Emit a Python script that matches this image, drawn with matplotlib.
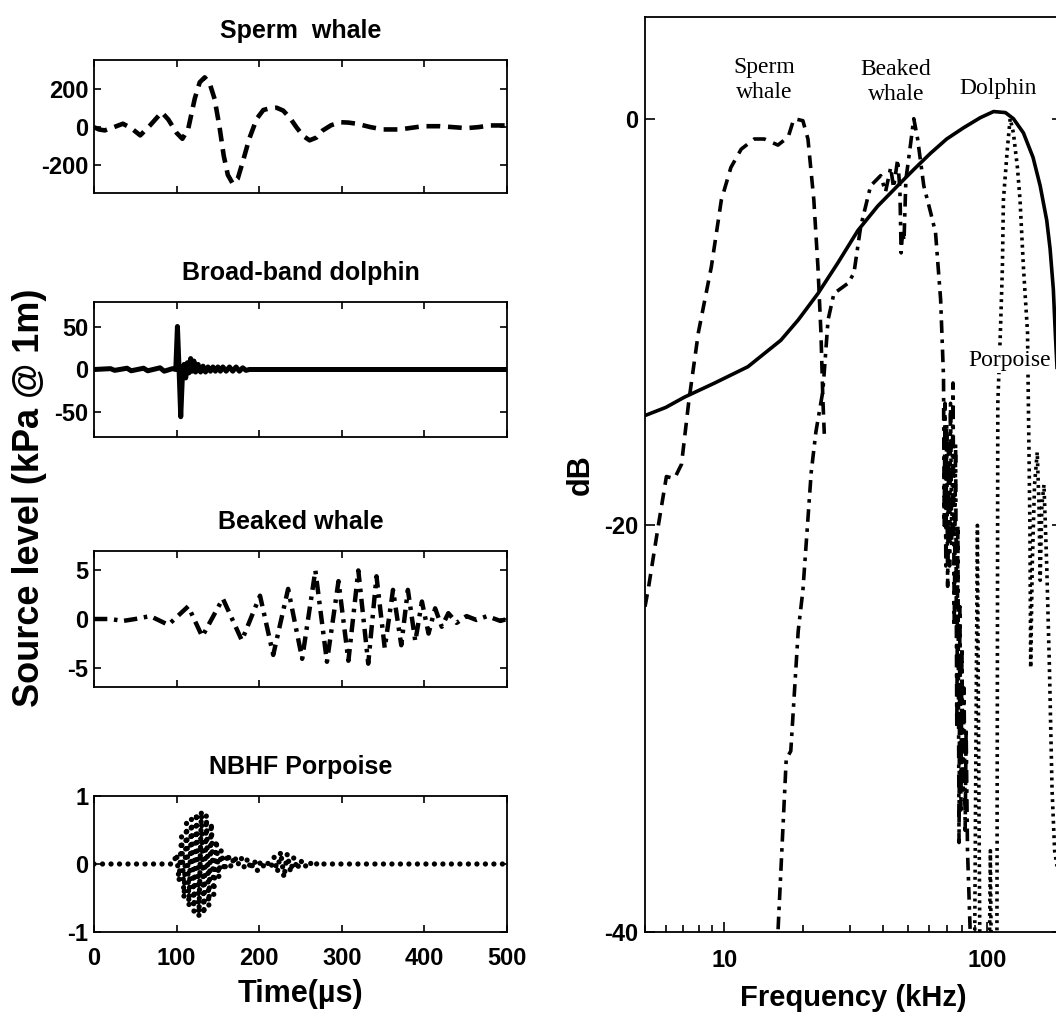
import matplotlib
matplotlib.use('Agg')
import matplotlib.pyplot as plt

plt.rcParams['font.family'] = ['Liberation Sans', 'DejaVu Sans']
plt.rcParams['font.weight'] = 'bold'
plt.rcParams['axes.unicode_minus'] = False

# ---- time-domain clicks (time in us) ----
sperm_t = [0, 6, 13, 24, 35, 45, 56, 68, 82, 90, 100, 107, 114, 122, 128, 134, 140, 146, 152, 157,
           162, 168, 174, 180, 188, 197, 205, 213, 221, 229, 237, 245, 253, 261, 269, 277, 287,
           298, 308, 318, 335, 350, 370, 385, 398, 419, 435, 451, 465, 480, 500]
sperm_p = [0, -12, -17, 0, 18, -5, -43, 10, 78, 40, -30, -61, -10, 150, 235, 261, 230, 148, 0, -148,
           -250, -296, -270, -183, -60, 44, 90, 99, 102, 87, 50, 0, -45, -69, -55, -17, 10,
           26, 24, 18, 0, -12, -12, -3, 5, 5, 0, -5, 0, 9, 9]

dolphin_t = [0, 20, 25, 40, 45, 60, 65, 80, 85, 95, 99, 101, 103, 105, 107, 109, 111, 113, 115, 117,
             119, 121, 123, 126, 129, 132, 135, 138, 141, 144, 147, 150, 153, 156, 160, 164, 168,
             172, 176, 180, 184, 188, 500]
dolphin_p = [0, 1, -1, 1.5, -1.5, 1.5, -1.5, 2, -2, 1, 0, 51, 0, -56, -8, 6, -10, 8, -4, 13,
             -2, 10, -3, 6, -3, 4, -3, 3, -2, 3, -2, 3, -2, 3, -2, 3, -2,
             3, -2, 2, -1, 0, 0]

beaked_t = [0, 20, 35, 50, 68, 90, 114, 131, 156, 179, 201, 217, 235, 252, 268, 282, 296, 308, 320,
            332, 342, 352, 362, 372, 380, 389, 397, 405, 413, 421, 429, 439, 451, 463, 476, 492, 500]
beaked_p = [0, 0, -0.2, 0, 0.3, -0.6, 1.3, -1.8, 2.1, -2.2, 2.4, -3.7, 3.1, -4.1, 5.0, -4.4, 3.9, -4.3, 5.0,
            -4.6, 4.4, -3.0, 3.0, -2.7, 3.0, -2.3, 1.8, -1.5, 1.1, -0.8, 0.6, -0.4, 0.3, -0.1, 0.3, -0.2, 0]

porp_t = [0, 96, 100, 103, 106, 109, 112, 115, 118, 121, 124, 127, 130, 133, 136, 139, 142, 145, 148,
          151, 154, 158, 162, 166, 170, 174, 178, 182, 186, 190, 194, 198, 202, 206, 210, 214, 218,
          222, 226, 230, 234, 238, 242, 246, 250, 255, 260, 266, 272, 278, 500]
porp_p = [0, 0, 0.15, -0.25, 0.4, -0.5, 0.6, -0.62, 0.66, -0.7, 0.75, -0.78, 0.78, -0.74, 0.72, -0.62, 0.6, -0.45, 0.35,
          -0.2, 0.2, -0.1, 0.15, -0.05, 0.12, -0.02, 0.1, -0.05, 0.08, -0.08, 0.06, -0.1, 0.05, -0.05, 0.02, -0.06, 0.1,
          -0.12, 0.18, -0.2, 0.15, -0.12, 0.1, -0.08, 0.06, -0.05, 0.04, -0.04, 0.03, 0, 0]

# ---- spectra (kHz, dB) ----
sperm_f = [5.0, 5.15, 5.62, 6.03, 6.47, 6.88, 7.32, 7.5, 7.98, 8.93, 9.75, 10.6, 11.6, 13.0, 14.2, 16.0,
           17.5, 18.4, 19.9, 20.8, 21.9, 22.7, 23.3, 23.7, 24.0]
sperm_db = [-24, -23.1, -20.0, -17.6, -17.7, -17.0, -14.0, -13.0, -10.5, -7.3, -4.0, -2.4, -1.5, -1.0, -1.0, -1.3,
            -0.9, 0.0, -0.1, -1.0, -4.0, -7.3, -10.5, -13.8, -15.5]

dolphin_f = [5.0, 6.0, 7.05, 9.2, 12.3, 16.4, 19.1, 22.7, 27.0, 32.2, 38.3, 45.6, 52.5, 60.8, 70, 81.1,
             94, 105.5, 117, 125.5, 137, 149, 158.6, 168, 173, 178, 181, 190]
dolphin_db = [-14.6, -14.2, -13.7, -13.0, -12.2, -10.9, -9.9, -8.6, -7.1, -5.5, -4.3, -3.3, -2.5, -1.7, -1.0, -0.45,
              0.05, 0.35, 0.3, 0.0, -0.7, -1.9, -3.3, -5.0, -6.4, -8.4, -10.5, -16]

beaked_f = [15.8, 16.0, 17.2, 17.9, 19.1, 19.9, 21.4, 22.3, 23.7, 24.8, 26.1, 29.5, 31.1, 33.0, 36.0,
            39.3, 41.0, 42.9, 44.0, 45.6, 46.5, 47.0, 47.6, 48.2, 49.0, 51.1, 52.5, 54.3, 57.3, 60.8,
            63.5, 66.4, 68.1, 68.5, 69, 69.5, 70, 70.6, 71.2, 71.8, 72.4, 73.2, 74, 74.8, 75.7, 76.5,
            77.2, 78, 78.6, 79.3, 80, 80.8, 81.5, 82.3, 83, 84, 85, 86, 87]
beaked_db = [-45, -40, -31.5, -31.1, -25.2, -23.2, -17.4, -15.4, -13.4, -9.9, -8.6, -8.1, -7.6, -5.3, -3.3,
             -2.8, -3.6, -2.4, -3.4, -2.0, -3.5, -6.6, -5.5, -6.0, -3.0, -1.2, 0.0, -1.0, -3.3, -4.6,
             -5.6, -8.9, -12.7, -20, -14, -22, -15, -23, -16, -22, -14, -21, -13, -25, -16, -30,
             -20, -35.6, -24, -34, -26, -33, -28, -35, -30, -36, -38, -40, -45]

porp_f = [89, 90.5, 91.6, 92.5, 94, 101, 102.6, 104, 108.5, 109, 109.5, 112, 114, 115, 119, 122, 125.5,
          130, 133, 137, 142, 143, 145, 146, 148, 151, 154.6, 157, 158.6, 161, 164, 168, 172, 176, 180, 190]
porp_db = [-45, -30, -20, -30, -45, -45, -36, -45, -45, -30, -14, -10.5, -7.3, -4, -1.5, 0, -0.7,
           -2.4, -4, -7.3, -10.5, -13.8, -20, -27, -22, -18, -16.4, -19, -22.7, -19, -18, -22, -27, -33, -36, -38]

fig = plt.figure(figsize=(10.56, 10.16), dpi=100)

W, H = 1056, 1016
def pos(x0, y0, x1, y1):
    return [x0 / W, 1 - y1 / H, (x1 - x0) / W, (y1 - y0) / H]

fs_tick = 17
panels = [
    ('Sperm  whale', sperm_t, sperm_p, (0, (3, 1.7)), 3.3, (-345, 352), [-200, 0, 200], (60, 193)),
    ('Broad-band dolphin', dolphin_t, dolphin_p, '-', 3.6, (-80, 80), [-50, 0, 50], (302, 437)),
    ('Beaked whale', beaked_t, beaked_p, (0, (3, 1.5, 0.8, 1.5)), 3.2, (-7, 7), [-5, 0, 5], (551, 687)),
    ('NBHF Porpoise', porp_t, porp_p, (0, (0.01, 1.6)), 3.8, (-1, 1), [-1, 0, 1], (796, 932)),
]
for i, (title, t, p, ls, lw, yl, yt, (y0, y1)) in enumerate(panels):
    ax = fig.add_axes(pos(94, y0, 507, y1))
    line, = ax.plot(t, p, color='black', linestyle=ls, linewidth=lw)
    if i == 3:
        line.set_dash_capstyle('round')
    ax.set_xlim(0, 500)
    ax.set_ylim(*yl)
    ax.set_yticks(yt)
    ax.set_xticks([0, 100, 200, 300, 400, 500])
    ax.tick_params(direction='in', top=True, right=True, length=5, width=1.2,
                   labelsize=fs_tick, pad=4)
    if i < 3:
        ax.set_xticklabels([])
    else:
        ax.tick_params(axis='x', pad=11)
        ax.set_xlabel('Time(µs)', fontsize=22, fontweight='bold', labelpad=6)
    for s in ax.spines.values():
        s.set_linewidth(1.3)
    ax.set_title(title, fontsize=18, fontweight='bold', pad=16)

fig.text(0.0275, 0.51, 'Source level (kPa @ 1m)', rotation=90, ha='center', va='center',
         fontsize=26, fontweight='bold')

# ---- spectra panel ----
ax = fig.add_axes(pos(645, 17, 1062, 932))
ax.set_xscale('log')
ax.plot(sperm_f, sperm_db, color='black', linestyle=(0, (3.5, 2.2)), linewidth=2.6)
ax.plot(dolphin_f, dolphin_db, color='black', linestyle='-', linewidth=2.6)
ax.plot(beaked_f, beaked_db, color='black', linestyle=(0, (3.5, 1.8, 1, 1.8)), linewidth=2.6)
ax.plot(porp_f, porp_db, color='black', linestyle=(0, (0.8, 1.2)), linewidth=2.6)
ax.set_xlim(5, 192)
ax.set_ylim(-40, 5)
ax.set_yticks([-40, -20, 0])
ax.set_xticks([10, 100], labels=['10', '100'])
ax.tick_params(which='both', direction='in', right=True, top=False, width=1.2)
ax.tick_params(which='major', length=7, labelsize=fs_tick, pad=5)
ax.tick_params(axis='x', which='major', pad=12)
ax.tick_params(which='minor', length=5)
for s in ax.spines.values():
    s.set_linewidth(1.3)
ax.set_xlabel('Frequency (kHz)', fontsize=21, fontweight='bold', labelpad=9)
ax.set_ylabel('dB', fontsize=22, fontweight='bold', labelpad=6)

serif = ['Liberation Serif', 'DejaVu Serif']
ax.text(14.2, 1.9, 'Sperm\nwhale', family=serif, fontweight='normal', fontsize=17,
        ha='center', va='center', linespacing=1.2)
ax.text(44.9, 1.8, 'Beaked\nwhale', family=serif, fontweight='normal', fontsize=17,
        ha='center', va='center', linespacing=1.2)
ax.text(110, 1.5, 'Dolphin', family=serif, fontweight='normal', fontsize=17, ha='center', va='center')
ax.text(122, -11.9, 'Porpoise', family=serif, fontweight='normal', fontsize=17, ha='center', va='center',
        bbox=dict(facecolor='white', edgecolor='none', pad=1))

fig.savefig('out.png', dpi=100)
